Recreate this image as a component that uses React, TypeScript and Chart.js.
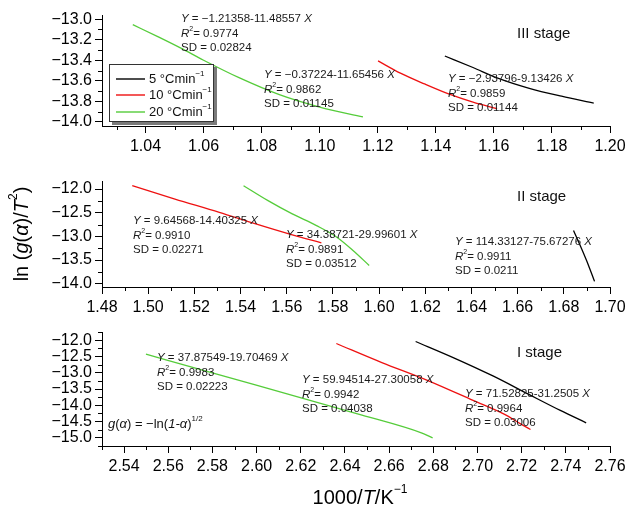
import React, { useEffect, useRef } from 'react';
import { Chart, registerables } from 'chart.js';

Chart.register(...registerables);

const FAMILY = '"Liberation Sans", Arial, Helvetica, sans-serif';

const SERIES_LABELS = ['5 °Cmin', '10 °Cmin', '20 °Cmin'];
const SERIES_COLORS = ['#000000', '#ee1111', '#55cc3a'];

// ---- III stage ----
const III_X5 = [1.1431, 1.1528, 1.1611, 1.1722, 1.1833, 1.1944];
const III_Y5 = [-13.359, -13.471, -13.571, -13.673, -13.75, -13.817];
const III_X10 = [1.1201, 1.1278, 1.1361, 1.1444, 1.1528, 1.1611];
const III_Y10 = [-13.407, -13.526, -13.631, -13.728, -13.808, -13.872];
const III_X20 = [1.0356, 1.0444, 1.052, 1.06, 1.0722, 1.0861, 1.1, 1.1149];
const III_Y20 = [-13.054, -13.173, -13.28, -13.4, -13.57, -13.735, -13.856, -13.952];
const III_XTICKS = [1.04, 1.06, 1.08, 1.1, 1.12, 1.14, 1.16, 1.18, 1.2];
const III_XMINOR = [1.03, 1.05, 1.07, 1.09, 1.11, 1.13, 1.15, 1.17, 1.19];
const III_YTICKS = [-14.0, -13.8, -13.6, -13.4, -13.2, -13.0];
const III_YMINOR = [-13.9, -13.7, -13.5, -13.3, -13.1];

// ---- II stage ----
const II_X5 = [1.6842, 1.6877, 1.6907, 1.6933];
const II_Y5 = [-12.877, -13.263, -13.614, -13.951];
const II_X10 = [1.4931, 1.5116, 1.5308, 1.5466, 1.5624, 1.575];
const II_Y10 = [-11.93, -12.211, -12.491, -12.737, -12.968, -13.137];
const II_X20 = [1.5413, 1.5519, 1.5624, 1.5729, 1.5817, 1.5887, 1.5957];
const II_Y20 = [-11.93, -12.246, -12.526, -12.772, -13.018, -13.298, -13.614];
const II_XTICKS = [1.48, 1.5, 1.52, 1.54, 1.56, 1.58, 1.6, 1.62, 1.64, 1.66, 1.68, 1.7];
const II_XMINOR = [1.49, 1.51, 1.53, 1.55, 1.57, 1.59, 1.61, 1.63, 1.65, 1.67, 1.69];
const II_YTICKS = [-14.0, -13.5, -13.0, -12.5, -12.0];
const II_YMINOR = [-13.75, -13.25, -12.75, -12.25];

// ---- I stage ----
const I_X5 = [2.672, 2.689, 2.707, 2.7232, 2.7375, 2.7492];
const I_Y5 = [-12.041, -12.534, -13.099, -13.664, -14.158, -14.538];
const I_X10 = [2.6361, 2.6567, 2.6773, 2.698, 2.7123, 2.7195, 2.724];
const I_Y10 = [-12.103, -12.688, -13.233, -13.849, -14.281, -14.569, -14.743];
const I_X20 = [2.5499, 2.5759, 2.6118, 2.6477, 2.6746, 2.6797];
const I_Y20 = [-12.432, -12.925, -13.613, -14.301, -14.846, -15.0];
const I_XTICKS = [2.54, 2.56, 2.58, 2.6, 2.62, 2.64, 2.66, 2.68, 2.7, 2.72, 2.74, 2.76];
const I_XMINOR = [2.53, 2.55, 2.57, 2.59, 2.61, 2.63, 2.65, 2.67, 2.69, 2.71, 2.73, 2.75];
const I_YTICKS = [-15.0, -14.5, -14.0, -13.5, -13.0, -12.5, -12.0];
const I_YMINOR = [-15.25, -14.75, -14.25, -13.75, -13.25, -12.75, -12.25, -11.75];

// fit annotation texts
const III_FITS = [
  ['−1.21358-11.48557', '0.9774', '0.02824'],
  ['−0.37224-11.65456', '0.9862', '0.01145'],
  ['−2.93796-9.13426', '0.9859', '0.01144'],
];
const II_FITS = [
  ['9.64568-14.40325', '0.9910', '0.02271'],
  ['34.38721-29.99601', '0.9891', '0.03512'],
  ['114.33127-75.67276', '0.9911', '0.0211'],
];
const I_FITS = [
  ['37.87549-19.70469', '0.9983', '0.02223'],
  ['59.94514-27.30058', '0.9942', '0.04038'],
  ['71.52825-31.2505', '0.9964', '0.03006'],
];

type Seg = { t: string; i?: boolean; sup?: boolean };

function drawRich(ctx: CanvasRenderingContext2D, segs: Seg[], x: number, y: number, size: number, align: 'left' | 'center', color: string) {
  const fontFor = (s: Seg) => `${s.i ? 'italic ' : ''}${s.sup ? Math.round(size * 0.62) : size}px ${FAMILY}`;
  const widths = segs.map((s) => {
    ctx.font = fontFor(s);
    return ctx.measureText(s.t).width;
  });
  const total = widths.reduce((a, b) => a + b, 0);
  let cx = align === 'center' ? x - total / 2 : x;
  ctx.fillStyle = color;
  ctx.textBaseline = 'middle';
  ctx.textAlign = 'left';
  segs.forEach((s, k) => {
    ctx.font = fontFor(s);
    ctx.fillText(s.t, cx, s.sup ? y - size * 0.4 : y);
    cx += widths[k];
  });
}

type Panel = {
  key: string;
  top: number;
  height: number;
  padTop: number;
  xMin: number; xMax: number; yMin: number; yMax: number;
  xs: number[][]; ys: number[][];
  xTicks: number[]; xMinor: number[]; yTicks: number[]; yMinor: number[];
  yDec: number;
  fits: string[][];
  fitPos: number[][]; // absolute left x, first line center y
  stage: string;
  extra?: (ctx: CanvasRenderingContext2D, top: number) => void;
};

const ANN_SIZE = 11.5;
const ANN_GAP = 15;

function fmt(v: number, d: number) {
  return v.toFixed(d).replace('-', '−');
}

function makeChart(canvas: HTMLCanvasElement, p: Panel) {
  const datasets = [0, 1, 2].map((k) => ({
    label: SERIES_LABELS[k],
    data: p.xs[k].map((x, j) => ({ x, y: p.ys[k][j] })),
    borderColor: SERIES_COLORS[k],
    borderWidth: 1.3,
    pointRadius: 0,
    fill: false,
    cubicInterpolationMode: 'monotone' as const,
  }));

  const decor = {
    id: 'decor' + p.key,
    afterDraw(chart: any) {
      const ctx: CanvasRenderingContext2D = chart.ctx;
      const { left, bottom } = chart.chartArea;
      const xs = chart.scales.x;
      const ys = chart.scales.y;
      ctx.save();
      ctx.strokeStyle = '#000';
      ctx.lineWidth = 1;
      ctx.beginPath();
      for (const v of p.xMinor) {
        const px = Math.round(xs.getPixelForValue(v)) + 0.5;
        ctx.moveTo(px, bottom);
        ctx.lineTo(px, bottom + 4);
      }
      for (const v of p.yMinor) {
        const py = Math.round(ys.getPixelForValue(v)) + 0.5;
        ctx.moveTo(left - 4, py);
        ctx.lineTo(left, py);
      }
      ctx.stroke();

      // fit annotations
      p.fits.forEach((f, k) => {
        const [ax, ay] = p.fitPos[k];
        const y0 = ay - p.top;
        drawRich(ctx, [{ t: 'Y', i: true }, { t: ' = ' + f[0] + ' ' }, { t: 'X', i: true }], ax, y0, ANN_SIZE, 'left', '#1a1a1a');
        drawRich(ctx, [{ t: 'R', i: true }, { t: '2', sup: true }, { t: '= ' + f[1] }], ax, y0 + ANN_GAP, ANN_SIZE, 'left', '#1a1a1a');
        drawRich(ctx, [{ t: 'SD = ' + f[2] }], ax, y0 + ANN_GAP * 2 - 1, ANN_SIZE, 'left', '#1a1a1a');
      });
      // stage label
      drawRich(ctx, [{ t: p.stage }], 517, (p.key === 'III' ? 34 : p.key === 'II' ? 197 : 353) - p.top, 15, 'left', '#111');
      if (p.extra) p.extra(ctx, p.top);
      ctx.restore();
    },
  };

  return new Chart(canvas, {
    type: 'line',
    data: { datasets },
    options: {
      animation: false,
      responsive: false,
      maintainAspectRatio: false,
      devicePixelRatio: 1,
      layout: { padding: { left: 0, right: 20, top: p.padTop, bottom: 0 } },
      plugins: { legend: { display: false }, tooltip: { enabled: false } },
      scales: {
        x: {
          type: 'linear',
          min: p.xMin,
          max: p.xMax,
          afterBuildTicks: (s: any) => {
            s.ticks = p.xTicks.map((v) => ({ value: v }));
          },
          afterFit: (s: any) => {
            s.height = p.height - (p.height - 0) + (p.key === 'III' ? 39 : p.key === 'II' ? 43 : 61);
            s.paddingLeft = 0;
            s.paddingRight = 0;
          },
          ticks: {
            callback: (v: any) => fmt(Number(v), 2),
            font: { size: 16, family: FAMILY },
            color: '#000',
            padding: 4,
            maxRotation: 0,
            autoSkip: false,
          },
          grid: { drawOnChartArea: false, drawTicks: true, tickLength: 7, color: '#000', lineWidth: 1 },
          border: { display: true, color: '#000', width: 1 },
        },
        y: {
          type: 'linear',
          min: p.yMin,
          max: p.yMax,
          afterBuildTicks: (s: any) => {
            s.ticks = p.yTicks.map((v) => ({ value: v }));
          },
          afterFit: (s: any) => {
            s.width = 102;
            s.paddingTop = 0;
            s.paddingBottom = 0;
          },
          ticks: {
            callback: (v: any) => fmt(Number(v), p.yDec),
            font: { size: 16, family: FAMILY },
            color: '#000',
            padding: 3,
            autoSkip: false,
          },
          grid: { drawOnChartArea: false, drawTicks: true, tickLength: 7, color: '#000', lineWidth: 1 },
          border: { display: true, color: '#000', width: 1 },
        },
      },
    } as any,
    plugins: [decor],
  });
}

const legendExtra = (ctx: CanvasRenderingContext2D, top: number) => {
  const L = 109, T = 64 - top, W = 105, H = 58;
  ctx.fillStyle = '#7a7a7a';
  ctx.fillRect(L + 3, T + 3, W, H);
  ctx.fillStyle = '#fff';
  ctx.fillRect(L, T, W, H);
  ctx.strokeStyle = '#333';
  ctx.lineWidth = 1;
  ctx.strokeRect(L + 0.5, T + 0.5, W - 1, H - 1);
  const rows = [79, 95, 112];
  rows.forEach((ry, k) => {
    const y = ry - top;
    ctx.strokeStyle = SERIES_COLORS[k];
    ctx.lineWidth = 1.4;
    ctx.beginPath();
    ctx.moveTo(116, y);
    ctx.lineTo(145, y);
    ctx.stroke();
    drawRich(ctx, [{ t: SERIES_LABELS[k] }, { t: '−1', sup: true }], 149, y, 13, 'left', '#111');
  });
};

const yTitleExtra = (ctx: CanvasRenderingContext2D, top: number) => {
  ctx.save();
  ctx.translate(22, 234 - top);
  ctx.rotate(-Math.PI / 2);
  drawRich(
    ctx,
    [{ t: 'ln (' }, { t: 'g', i: true }, { t: '(' }, { t: 'α', i: true }, { t: ')/' }, { t: 'T', i: true }, { t: '2', sup: true }, { t: ')' }],
    0, 0, 20, 'center', '#000'
  );
  ctx.restore();
};

const bottomExtra = (ctx: CanvasRenderingContext2D, top: number) => {
  drawRich(ctx, [{ t: '1000/' }, { t: 'T', i: true }, { t: '/K' }, { t: '−1', sup: true }], 360, 498 - top, 20, 'center', '#000');
  drawRich(
    ctx,
    [{ t: 'g', i: true }, { t: '(' }, { t: 'α', i: true }, { t: ') = −ln(' }, { t: '1-α', i: true }, { t: ')' }, { t: '1/2', sup: true }],
    108, 424 - top, 13, 'left', '#111'
  );
};

const PANELS: Panel[] = [
  {
    key: 'III', top: 0, height: 165, padTop: 15,
    xMin: 1.025, xMax: 1.2, yMin: -14.04, yMax: -12.96,
    xs: [III_X5, III_X10, III_X20], ys: [III_Y5, III_Y10, III_Y20],
    xTicks: III_XTICKS, xMinor: III_XMINOR, yTicks: III_YTICKS, yMinor: III_YMINOR, yDec: 1,
    fits: III_FITS, fitPos: [[181, 19], [264, 75], [448, 79]], stage: 'III stage',
    extra: legendExtra,
  },
  {
    key: 'II', top: 165, height: 165, padTop: 16,
    xMin: 1.48, xMax: 1.7, yMin: -14.07, yMax: -11.83,
    xs: [II_X5, II_X10, II_X20], ys: [II_Y5, II_Y10, II_Y20],
    xTicks: II_XTICKS, xMinor: II_XMINOR, yTicks: II_YTICKS, yMinor: II_YMINOR, yDec: 1,
    fits: II_FITS, fitPos: [[133, 221], [286, 235], [455, 242]], stage: 'II stage',
    extra: yTitleExtra,
  },
  {
    key: 'I', top: 330, height: 177, padTop: 2,
    xMin: 2.53, xMax: 2.76, yMin: -15.25, yMax: -11.75,
    xs: [I_X5, I_X10, I_X20], ys: [I_Y5, I_Y10, I_Y20],
    xTicks: I_XTICKS, xMinor: I_XMINOR, yTicks: I_YTICKS, yMinor: I_YMINOR, yDec: 1,
    fits: I_FITS, fitPos: [[157, 358], [302, 380], [465, 394]], stage: 'I stage',
    extra: bottomExtra,
  },
];

function PanelCanvas({ p }: { p: Panel }) {
  const ref = useRef<HTMLCanvasElement | null>(null);
  useEffect(() => {
    if (!ref.current) return;
    const chart = makeChart(ref.current, p);
    return () => chart.destroy();
  }, [p]);
  return (
    <canvas
      ref={ref}
      width={630}
      height={p.height}
      style={{ position: 'absolute', left: 0, top: p.top, width: 630, height: p.height, display: 'block' }}
    />
  );
}

export default function App() {
  return (
    <div style={{ position: 'fixed', left: 0, top: 0, width: 630, height: 507, background: '#fff' }}>
      {PANELS.map((p) => (
        <PanelCanvas key={p.key} p={p} />
      ))}
    </div>
  );
}
